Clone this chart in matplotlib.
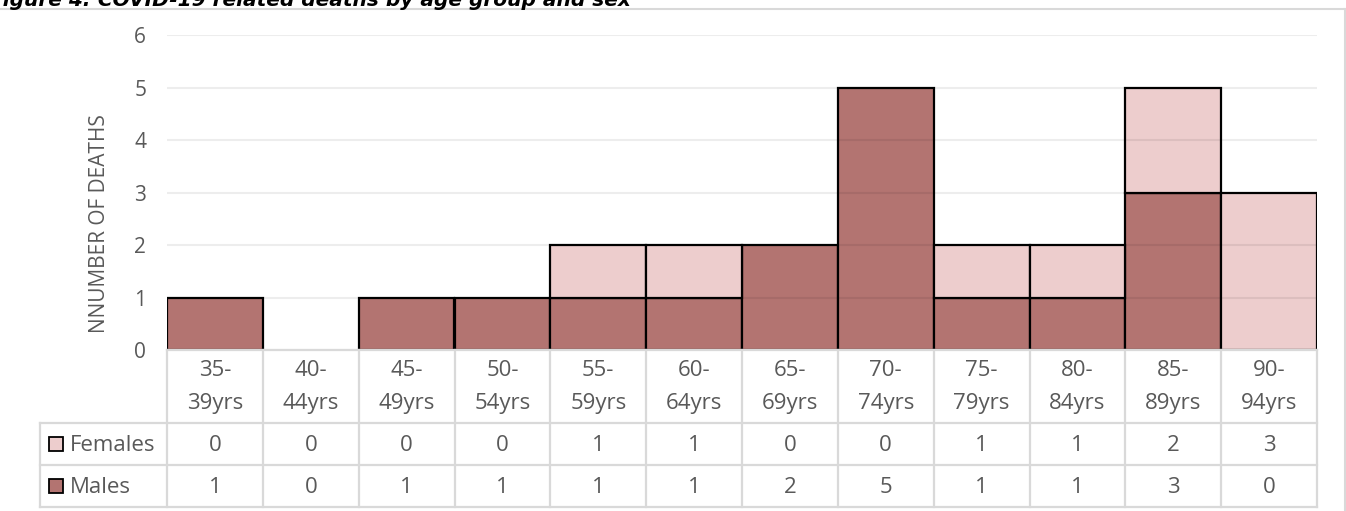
import matplotlib.pyplot as plt
from matplotlib.lines import Line2D
from matplotlib.patches import Rectangle

plt.rcParams['font.family'] = ['Open Sans', 'DejaVu Sans']

categories = ['35-\n39yrs', '40-\n44yrs', '45-\n49yrs', '50-\n54yrs', '55-\n59yrs', '60-\n64yrs',
              '65-\n69yrs', '70-\n74yrs', '75-\n79yrs', '80-\n84yrs', '85-\n89yrs', '90-\n94yrs']
females = [0, 0, 0, 0, 1, 1, 0, 0, 1, 1, 2, 3]
males = [1, 0, 1, 1, 1, 1, 2, 5, 1, 1, 3, 0]
series_names = ['Females', 'Males']
title = 'Figure 4: COVID-19 related deaths by age group and sex'

W, H = 1346, 511
c_fem = '#EDCDCD'
c_male = '#B37471'
grid_c = '#D9D9D9'
txt_c = '#595959'

fig = plt.figure(figsize=(W / 100, H / 100), dpi=100)

def fx(px):
    return px / W

def fy(py):
    return 1 - py / H

left, right, top, bottom = 167, 1317, 35, 350
ax = fig.add_axes([fx(left), fy(bottom), fx(right - left), (bottom - top) / H])

x = list(range(len(categories)))
# no outline for empty segments
m_edges = ['black' if v > 0 else 'none' for v in males]
f_edges = ['black' if v > 0 else 'none' for v in females]
ax.bar(x, males, width=1.0, color=c_male, edgecolor=m_edges, linewidth=1.6, zorder=2)
ax.bar(x, females, width=1.0, bottom=males, color=c_fem, edgecolor=f_edges, linewidth=1.6, zorder=2)

for v in range(0, 7):
    ax.axhline(v, color='#000000', alpha=0.07, lw=1.5, zorder=3)

ax.set_xlim(-0.5, len(categories) - 0.5)
ax.set_ylim(0, 6)
ax.set_yticks(range(0, 7))
ax.set_xticks([])
ax.tick_params(axis='y', length=0, pad=15, labelsize=15, labelcolor=txt_c)
for s in ax.spines.values():
    s.set_visible(False)
ax.set_ylabel('NNUMBER OF DEATHS', fontsize=15, color=txt_c)
ax.yaxis.set_label_coords(-(left - 110) / (right - left), (bottom - 224) / (bottom - top))

# data table below the plot
row_top, row_f, row_m, row_bot = 350, 423, 465, 507
col_w = (right - left) / len(categories)
lk = dict(color=grid_c, lw=1.6, transform=fig.transFigure, zorder=1)
for i in range(len(categories) + 1):
    xp = left + i * col_w
    fig.add_artist(Line2D([fx(xp), fx(xp)], [fy(row_top), fy(row_bot)], **lk))
for yp in (row_f, row_m, row_bot):
    fig.add_artist(Line2D([fx(40), fx(right)], [fy(yp), fy(yp)], **lk))
fig.add_artist(Line2D([fx(40), fx(40)], [fy(row_f), fy(row_bot)], **lk))
fig.add_artist(Line2D([fx(left), fx(right)], [fy(row_top), fy(row_top)], **lk))

for i, cat in enumerate(categories):
    xc = fx(left + (i + 0.5) * col_w)
    fig.text(xc, fy((row_top + row_f) / 2), cat, ha='center', va='center',
             fontsize=16, color=txt_c, linespacing=1.75)
    fig.text(xc, fy((row_f + row_m) / 2 + 1), str(females[i]), ha='center', va='center',
             fontsize=16, color=txt_c)
    fig.text(xc, fy((row_m + row_bot) / 2 + 1), str(males[i]), ha='center', va='center',
             fontsize=16, color=txt_c)

for name, col, y0, y1 in ((series_names[0], c_fem, row_f, row_m), (series_names[1], c_male, row_m, row_bot)):
    yc = (y0 + y1) / 2
    fig.add_artist(Rectangle((fx(49), fy(yc + 7)), fx(14), 14 / H, facecolor=col,
                             edgecolor='black', lw=1.3, transform=fig.transFigure))
    fig.text(fx(70), fy(yc + 1), name, ha='left', va='center', fontsize=16, color=txt_c)

# outer chart frame and caption cropped at the top edge, as in the source image
fig.add_artist(Line2D([0, fx(1345)], [fy(9), fy(9)], color='#D9D9D9', lw=1.5, transform=fig.transFigure))
fig.add_artist(Line2D([fx(1345), fx(1345)], [fy(9), 0], color='#D9D9D9', lw=1.5, transform=fig.transFigure))
fig.text(fx(-11), fy(6), title, ha='left', va='baseline', fontsize=14.5,
         fontweight='bold', fontstyle='italic', family='DejaVu Sans', color='black')

fig.savefig('out.png', dpi=100)
